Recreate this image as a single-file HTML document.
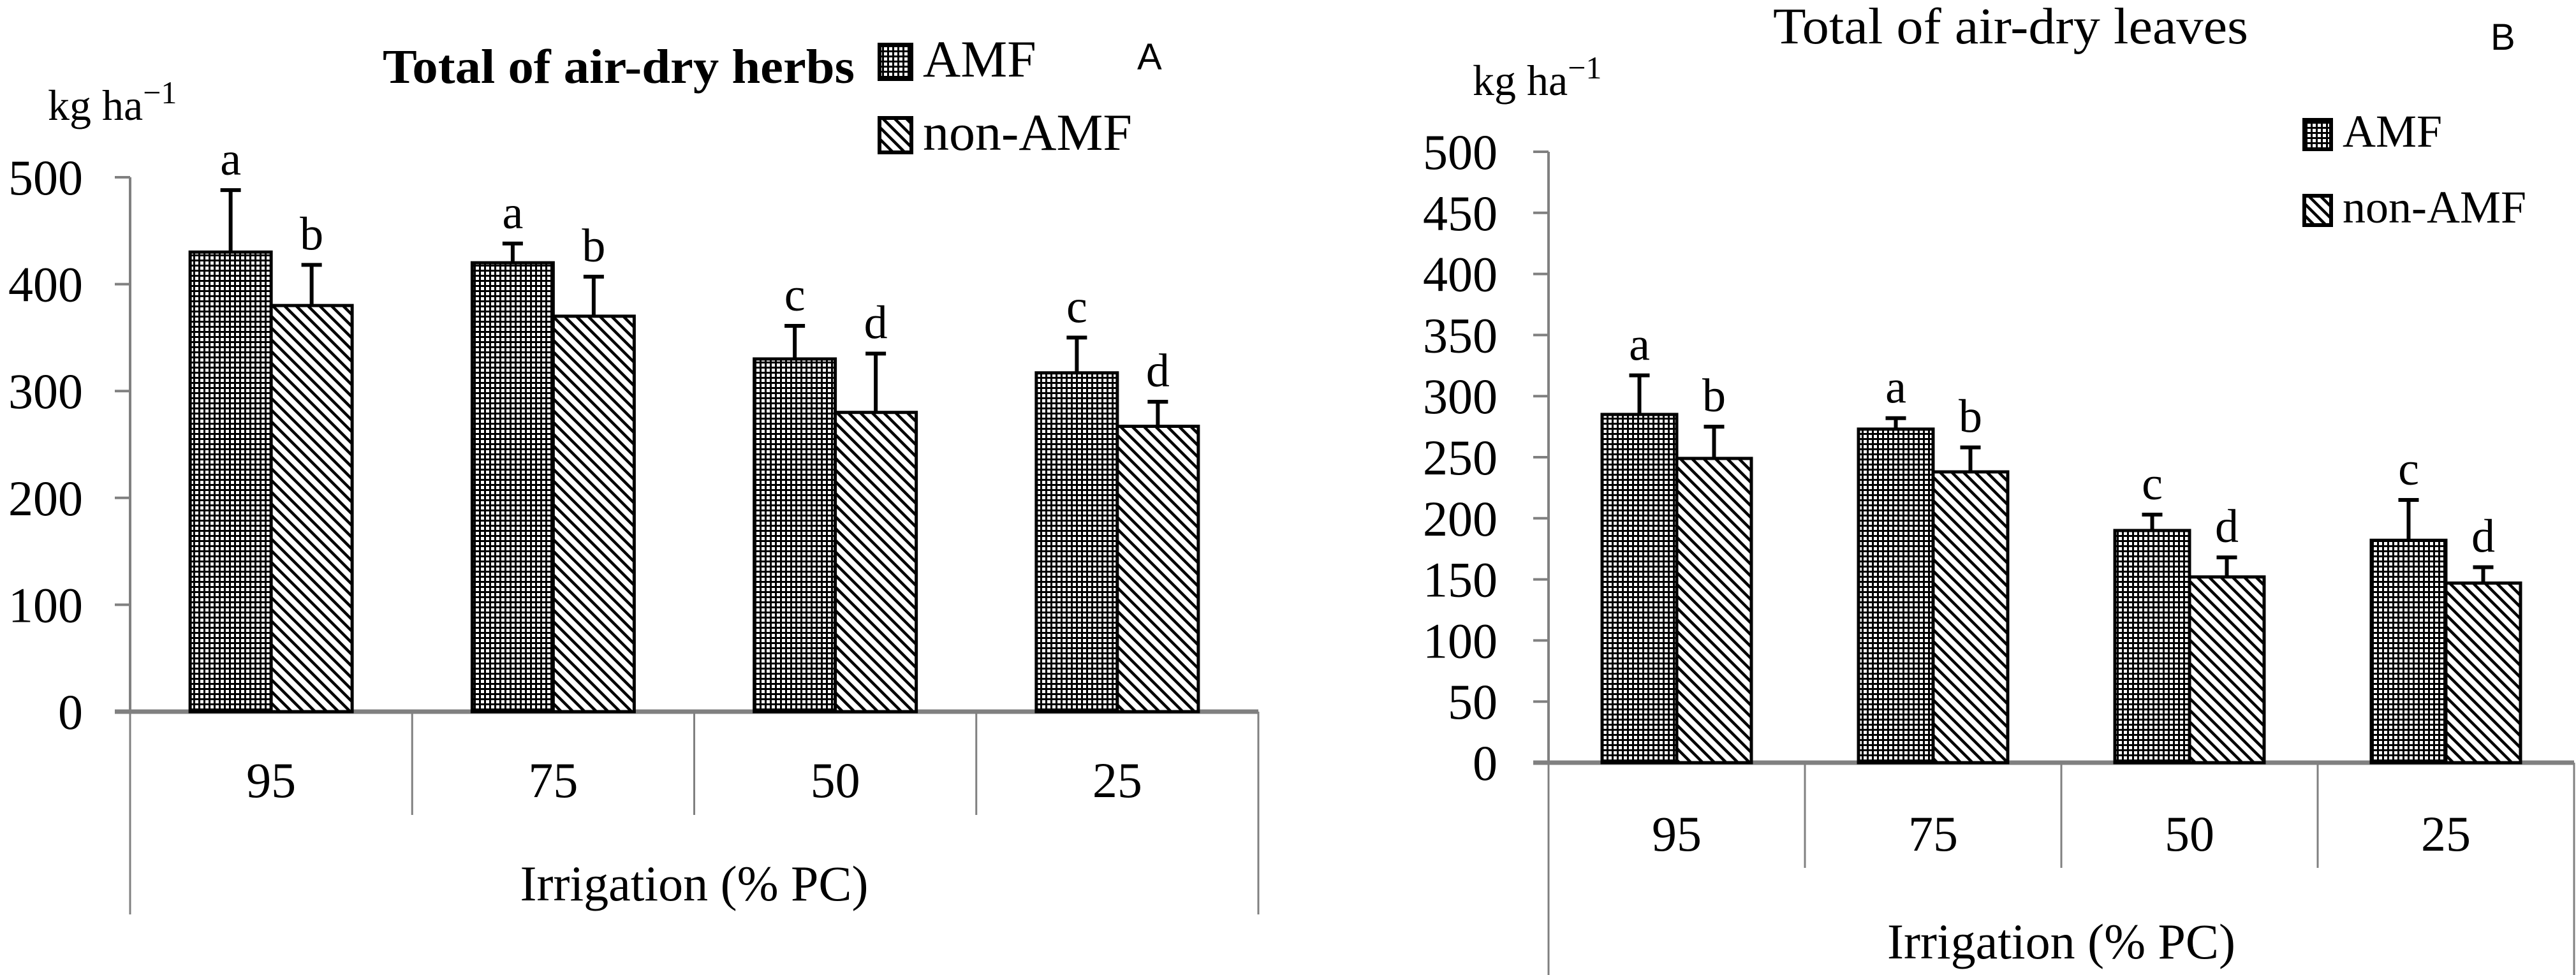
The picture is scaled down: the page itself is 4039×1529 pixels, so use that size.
<!DOCTYPE html>
<html><head><meta charset="utf-8">
<style>
html,body{margin:0;padding:0;background:#fff;}
svg{display:block;font-family:"Liberation Serif",serif;}
</style></head>
<body>
<svg id="chart" width="4039" height="1529" viewBox="0 0 4039 1529" xmlns="http://www.w3.org/2000/svg">
<defs>
<pattern id="dots" patternUnits="userSpaceOnUse" width="8" height="8">
<rect width="8" height="8" fill="#000"/>
<rect x="2" y="2" width="5" height="5" fill="#fff"/>
</pattern>
<pattern id="stripes" patternUnits="userSpaceOnUse" width="13" height="13" patternTransform="rotate(-45)">
<rect width="13" height="13" fill="#fff"/>
<rect x="0" y="0" width="4.5" height="13" fill="#000"/>
</pattern>
</defs>
<g id="panelA"></g>
<g id="panelB"></g>
</svg>
<script>
const categories = ["95","75","50","25"];
const herbsAMF = [430, 420, 330, 317];
const herbsNon = [380, 370, 280, 267];
const herbsAMFErr = [58, 18, 31, 33];
const herbsNonErr = [38, 37, 55, 23];
const herbsAMFLetters = ["a","a","c","c"];
const herbsNonLetters = ["b","b","d","d"];
const herbsTicks = [0,100,200,300,400,500];
const leavesAMF = [285, 273, 190, 182];
const leavesNon = [249, 238, 152, 147];
const leavesAMFErr = [32, 9, 13, 33];
const leavesNonErr = [26, 20, 16, 13];
const leavesAMFLetters = ["a","a","c","c"];
const leavesNonLetters = ["b","b","d","d"];
const leavesTicks = [0,50,100,150,200,250,300,350,400,450,500];

const NS = "http://www.w3.org/2000/svg";
function mk(parent, tag, attrs, text){
  const e = document.createElementNS(NS, tag);
  for (const k in attrs) e.setAttribute(k, attrs[k]);
  if (text !== undefined) e.textContent = text;
  parent.appendChild(e);
  return e;
}

function drawPanel(g, cfg){
  const yScale = v => cfg.y0 - (v / cfg.max) * (cfg.y0 - cfg.yTop);
  const catW = (cfg.xR - cfg.x0) / categories.length;
  const xCat = i => cfg.x0 + catW * i;
  let ax = mk(g, "line", {x1:cfg.x0, y1:cfg.yTop, x2:cfg.x0, y2:cfg.y0, stroke:"#808080", "stroke-width":4});
  
  
  cfg.ticks.forEach(t => {
    const y = yScale(t);
    const tk = mk(g, "line", {x1:cfg.x0-24, y1:y, x2:cfg.x0, y2:y, stroke:"#808080", "stroke-width":4});
    
    
    const tl = mk(g, "text", {x:cfg.tickRight, y:y+27, "text-anchor":"end", "font-size":78, fill:"#000"}, String(t));
    
    
  });
  const xl = mk(g, "line", {x1:cfg.x0-24, y1:cfg.y0, x2:cfg.xR, y2:cfg.y0, stroke:"#808080", "stroke-width":7});
  
  
  for (let i=0;i<=categories.length;i++){
    const x = xCat(i);
    const bottom = (i===0 || i===categories.length) ? cfg.outerBottom : cfg.divBottom;
    const d = mk(g, "line", {x1:x, y1:cfg.y0, x2:x, y2:bottom, stroke:"#808080", "stroke-width":3});
    
    
  }
  categories.forEach((c,i) => {
    const cx = xCat(i) + catW/2;
    const cl = mk(g, "text", {x:cx, y:cfg.catLabelY, "text-anchor":"middle", "font-size":78, fill:"#000"}, c);
    
    
    const series = [
      {v:cfg.amf[i], e:cfg.amfErr[i], l:cfg.amfL[i], fill:"url(#dots)", x:cx - cfg.barW, name:'bar-amf'},
      {v:cfg.non[i], e:cfg.nonErr[i], l:cfg.nonL[i], fill:"url(#stripes)", x:cx, name:'bar-non-amf'}
    ];
    series.forEach(s => {
      const top = yScale(s.v);
      const b = mk(g, "rect", {x:s.x, y:top, width:cfg.barW, height:cfg.y0-top, fill:s.fill, stroke:"#000", "stroke-width":5});
      
      
      const mx = s.x + cfg.barW/2;
      const et = yScale(s.v + s.e);
      const eb = mk(g, "path", {d:`M${mx},${top} V${et} M${mx-16},${et} H${mx+16}`, stroke:"#000", "stroke-width":6, fill:"none"});
      
      
      const lt = mk(g, "text", {x:mx, y:et-24, "text-anchor":"middle", "font-size":74, fill:"#000"}, s.l);
      
      
    });
  });
  const xt = mk(g, "text", {x:(cfg.x0+cfg.xR)/2, y:cfg.xTitleY, "text-anchor":"middle", "font-size":78, fill:"#000"}, "Irrigation (% PC)");
  
  
  const unit = mk(g, "text", {x:cfg.unitX, y:cfg.unitY, "font-size":68, fill:"#000"});
  
  
  unit.textContent = "kg ha";
  mk(unit, "tspan", {dy:-26, "font-size":50}, "\u22121");
  const tt = mk(g, "text", {x:cfg.titleX, y:cfg.titleY, "font-size":cfg.titleSize, "font-weight":cfg.titleWeight, textLength:cfg.titleLen, lengthAdjust:"spacingAndGlyphs", fill:"#000"}, cfg.title);
  
  
  [[cfg.legY1,"url(#dots)","AMF"],[cfg.legY2,"url(#stripes)","non-AMF"]].forEach(([y,f,label])=>{
    const r = mk(g, "rect", {x:cfg.legX, y:y, width:cfg.legBox-4, height:cfg.legBox, fill:f, stroke:"#000", "stroke-width":6});
    
    
    const t = mk(g, "text", {x:cfg.legX+cfg.legBox+14, y:y+cfg.legBox-4, "font-size":cfg.legFont, fill:"#000"}, label);
    
    
  });
  const pl = mk(g, "text", {x:cfg.panelX, y:cfg.panelY, "font-size":58, "font-family":"Liberation Sans, sans-serif", fill:"#000"}, cfg.panel);
  
  
}

drawPanel(document.getElementById("panelA"), {
  x0:204, xR:1973, y0:1116, yTop:278, max:500, ticks:herbsTicks, tickRight:130,
  amf:herbsAMF, non:herbsNon, amfErr:herbsAMFErr, nonErr:herbsNonErr, amfL:herbsAMFLetters, nonL:herbsNonLetters,
  barW:127, catLabelY:1250, divBottom:1278, outerBottom:1434, xTitleY:1412,
  unitX:75, unitY:188, title:"Total of air-dry herbs", titleX:600, titleY:130, titleSize:76, titleWeight:"bold", titleLen:740,
  legX:1379, legY1:70, legY2:185, legBox:54, legFont:82, panel:"A", panelX:1783, panelY:109
});
drawPanel(document.getElementById("panelB"), {
  x0:2428, xR:4036, y0:1196, yTop:238, max:500, ticks:leavesTicks, tickRight:2348,
  amf:leavesAMF, non:leavesNon, amfErr:leavesAMFErr, nonErr:leavesNonErr, amfL:leavesAMFLetters, nonL:leavesNonLetters,
  barW:117, catLabelY:1334, divBottom:1361, outerBottom:1529, xTitleY:1503,
  unitX:2309, unitY:149, title:"Total of air-dry leaves", titleX:2780, titleY:68, titleSize:80, titleWeight:"normal", titleLen:745,
  legX:3613, legY1:188, legY2:307, legBox:46, legFont:72, panel:"B", panelX:3905, panelY:78
});
</script>
</body></html>
